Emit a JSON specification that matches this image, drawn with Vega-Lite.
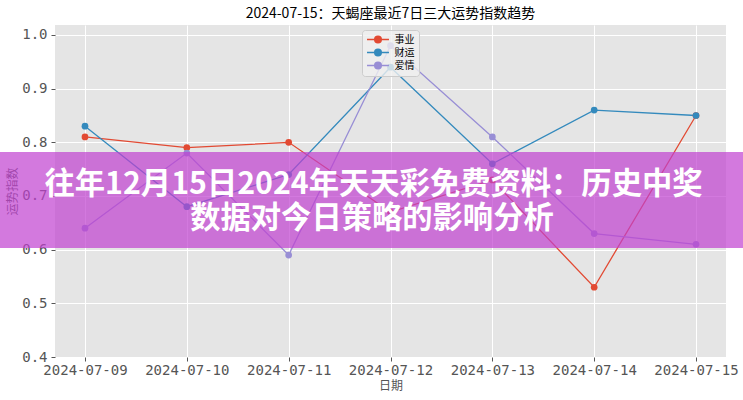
{
  "$schema": "https://vega.github.io/schema/vega-lite/v6.json",
  "width": 671,
  "height": 332,
  "autosize": {"type": "none"},
  "padding": {"left": 55, "top": 25, "right": 17, "bottom": 43},
  "background": "white",
  "title": {
    "text": "2024-07-15：天蝎座最近7日三大运势指数趋势",
    "font": "Noto Sans CJK SC",
    "fontSize": 14,
    "fontWeight": "normal",
    "color": "#000000",
    "anchor": "middle",
    "offset": 4
  },
  "datasets": {
    "scores": [
      {"date": "2024-07-09", "series": "事业", "value": 0.81},
      {"date": "2024-07-10", "series": "事业", "value": 0.79},
      {"date": "2024-07-11", "series": "事业", "value": 0.80},
      {"date": "2024-07-12", "series": "事业", "value": 0.67},
      {"date": "2024-07-13", "series": "事业", "value": 0.73},
      {"date": "2024-07-14", "series": "事业", "value": 0.53},
      {"date": "2024-07-15", "series": "事业", "value": 0.85},
      {"date": "2024-07-09", "series": "财运", "value": 0.83},
      {"date": "2024-07-10", "series": "财运", "value": 0.68},
      {"date": "2024-07-11", "series": "财运", "value": 0.74},
      {"date": "2024-07-12", "series": "财运", "value": 0.94},
      {"date": "2024-07-13", "series": "财运", "value": 0.76},
      {"date": "2024-07-14", "series": "财运", "value": 0.86},
      {"date": "2024-07-15", "series": "财运", "value": 0.85},
      {"date": "2024-07-09", "series": "爱情", "value": 0.64},
      {"date": "2024-07-10", "series": "爱情", "value": 0.78},
      {"date": "2024-07-11", "series": "爱情", "value": 0.59},
      {"date": "2024-07-12", "series": "爱情", "value": 0.98},
      {"date": "2024-07-13", "series": "爱情", "value": 0.81},
      {"date": "2024-07-14", "series": "爱情", "value": 0.63},
      {"date": "2024-07-15", "series": "爱情", "value": 0.61}
    ],
    "banner": [
      {"date": "2024-07-08T03:50:00Z", "date2": "2024-07-15T11:15:00Z", "value": 0.782, "value2": 0.603}
    ],
    "caption": [
      {"date": "2024-07-11T20:00:00Z", "value": 0.7205, "label": "往年12月15日2024年天天彩免费资料：历史中奖"},
      {"date": "2024-07-11T19:38:00Z", "value": 0.657, "label": "数据对今日策略的影响分析"}
    ]
  },
  "encoding": {
    "x": {
      "field": "date",
      "type": "temporal",
      "title": "日期",
      "scale": {
        "type": "utc",
        "domain": [
          {"year": 2024, "month": 7, "date": 8, "hours": 16, "minutes": 56, "utc": true},
          {"year": 2024, "month": 7, "date": 15, "hours": 7, "minutes": 4, "utc": true}
        ],
        "nice": false
      },
      "axis": {
        "values": [
          {"year": 2024, "month": 7, "date": 9, "utc": true},
          {"year": 2024, "month": 7, "date": 10, "utc": true},
          {"year": 2024, "month": 7, "date": 11, "utc": true},
          {"year": 2024, "month": 7, "date": 12, "utc": true},
          {"year": 2024, "month": 7, "date": 13, "utc": true},
          {"year": 2024, "month": 7, "date": 14, "utc": true},
          {"year": 2024, "month": 7, "date": 15, "utc": true}
        ],
        "labelExpr": "utcFormat(datum.value, '%Y-%m-%d')",
        "labelAngle": 0,
        "labelPadding": 2,
        "titlePadding": 3
      }
    },
    "y": {
      "field": "value",
      "type": "quantitative",
      "title": "运势指数",
      "scale": {"domain": [0.4, 1.0186], "nice": false, "zero": false},
      "axis": {
        "values": [0.4, 0.5, 0.6, 0.7, 0.8, 0.9, 1.0],
        "format": ".1f",
        "labelPadding": 4,
        "titlePadding": 2
      }
    }
  },
  "layer": [
    {
      "data": {"name": "scores"},
      "mark": {
        "type": "line",
        "strokeWidth": 1.3,
        "point": {"filled": true, "size": 45, "opacity": 1}
      },
      "encoding": {
        "color": {
          "field": "series",
          "type": "nominal",
          "scale": {"domain": ["事业", "财运", "爱情"], "range": ["#E24A33", "#348ABD", "#988ED5"]},
          "legend": {
            "orient": "none",
            "legendX": 307,
            "legendY": 5,
            "title": null,
            "symbolType": "M-2.44,0H2.44M-0.73,0A0.73,0.73,0,1,1,0.73,0A0.73,0.73,0,1,1,-0.73,0Z",
            "symbolSize": 81,
            "symbolOffset": 6.5,
            "symbolStrokeWidth": 1.5,
            "labelFont": "Noto Sans CJK SC",
            "labelFontSize": 10,
            "labelColor": "#000000",
            "labelOffset": 11,
            "rowPadding": 0,
            "padding": 4,
            "fillColor": "rgba(240,240,240,0.8)",
            "strokeColor": "#cccccc",
            "cornerRadius": 3,
            "encode": {
              "symbols": {
                "update": {
                  "fill": {"scale": "color", "field": "value"},
                  "stroke": {"scale": "color", "field": "value"},
                  "strokeWidth": {"value": 1.5},
                  "opacity": {"value": 1}
                }
              }
            }
          }
        }
      }
    },
    {
      "data": {"name": "banner"},
      "mark": {"type": "rect", "clip": false, "color": "#C040D0", "opacity": 0.7},
      "encoding": {
        "x2": {"field": "date2"},
        "y2": {"field": "value2"}
      }
    },
    {
      "data": {"name": "caption"},
      "mark": {
        "type": "text",
        "clip": false,
        "font": "Noto Sans CJK SC",
        "fontSize": 30.3,
        "fontWeight": "bold",
        "color": "#ffffff",
        "align": "center",
        "baseline": "middle"
      },
      "encoding": {
        "text": {"field": "label"}
      }
    }
  ],
  "config": {
    "view": {"fill": "#E5E5E5", "stroke": null},
    "axis": {
      "domain": false,
      "grid": true,
      "gridColor": "#ffffff",
      "gridWidth": 1,
      "gridOpacity": 1,
      "tickColor": "#555555",
      "tickSize": 4,
      "tickWidth": 1,
      "labelFont": "DejaVu Sans Mono",
      "labelFontSize": 14,
      "labelColor": "#555555",
      "titleFont": "Noto Sans CJK SC",
      "titleFontSize": 12,
      "titleFontWeight": "normal",
      "titleColor": "#555555"
    }
  }
}
